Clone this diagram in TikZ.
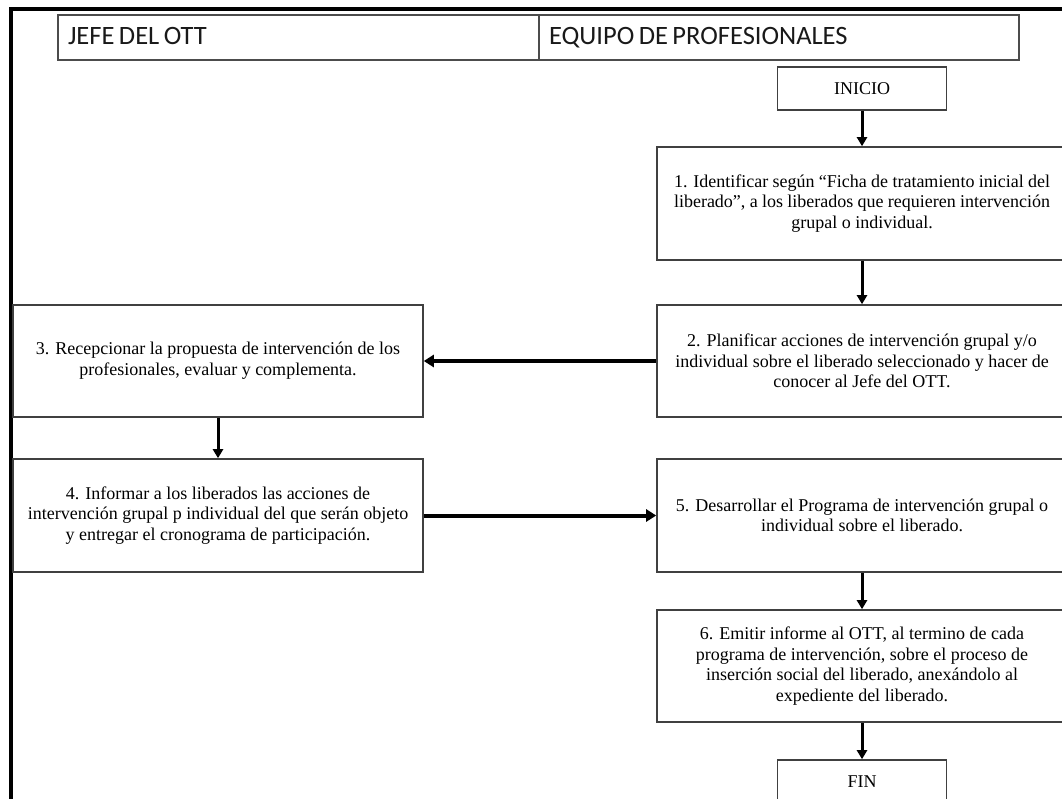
\documentclass[tikz,border=0pt]{standalone}
\usepackage{fontspec}
\setmainfont{Liberation Serif}
\newfontfamily\hdrfont{Carlito}
\newcommand\tightsp{\spaceskip=4.5pt plus 1pt minus 1pt\relax}
\usetikzlibrary{arrows.meta}
\begin{document}
\begin{tikzpicture}[x=1pt,y=-1pt,
  box/.style={draw=black!75, line width=1.6pt, fill=white, minimum width=410pt, minimum height=112pt, align=center, inner sep=0pt, font=\fontsize{18}{20.7}\selectfont},
  term/.style={box, minimum width=169pt, minimum height=43pt},
  hdr/.style={draw=black!70, line width=1.4pt, minimum height=45pt, inner xsep=10pt, inner ysep=0pt, text height=18pt, text depth=5pt, align=left, font=\hdrfont\fontsize{26.5}{30}\selectfont, text=black!90},
  flow/.style={line width=3pt, -{Triangle[length=9pt,width=10pt]}},
  flowh/.style={line width=4pt, -{Triangle[length=10pt,width=12pt]}},
  frame/.style={line width=3.5pt, line join=miter}]
\useasboundingbox (0,0) rectangle (1062,798);
\fill[white] (0,0) rectangle (1062,798);
\clip (0,0) rectangle (1062,798);

% outer frame
\draw[frame] (11,810) -- (11,9) -- (1075,9);

% header
\node[hdr, text width=461pt] (hjefe) at (298.5,37.5) {\tightsp JEFE DEL OTT};
\node[hdr, text width=460pt] (hequipo) at (779,37.5) {\tightsp EQUIPO DE PROFESIONALES};

% boxes
\node[term] (inicio) at (862,88.5) {INICIO};
\node[box, minimum height=113pt] (b1) at (862,203.5) {\makebox[376pt][s]{1. Identificar según “Ficha de tratamiento inicial del}\\\makebox[376pt][s]{liberado”, a los liberados que requieren intervención}\\grupal o individual.};
\node[box] (b2) at (862,361) {2. Planificar acciones de intervención grupal y/o\\individual sobre el liberado seleccionado y hacer de\\conocer al Jefe del OTT.};
\node[box] (b3) at (218,361) {3. Recepcionar la propuesta de intervención de los\\profesionales, evaluar y complementa.};
\node[box, minimum height=113pt] (b4) at (218,515.5) {4. Informar a los liberados las acciones de\\intervención grupal p individual del que serán objeto\\y entregar el cronograma de participación.};
\node[box, minimum height=113pt] (b5) at (862,515.5) {5. Desarrollar el Programa de intervención grupal o\\individual sobre el liberado.};
\node[box] (b6) at (862,666) {6. Emitir informe al OTT, al termino de cada\\programa de intervención, sobre el proceso de\\inserción social del liberado, anexándolo al\\expediente del liberado.};
\node[term] (fin) at (862,781.5) {FIN};

% connectors
\draw[flow] (inicio.south) -- (b1.north);
\draw[flow] (b1.south) -- (b2.north);
\draw[flowh] (b2.west) -- (b3.east);
\draw[flow] (b3.south) -- (b4.north);
\draw[flowh] (b4.east) -- (b5.west);
\draw[flow] (b5.south) -- (b6.north);
\draw[flow] (b6.south) -- (fin.north);
\end{tikzpicture}
\end{document}
